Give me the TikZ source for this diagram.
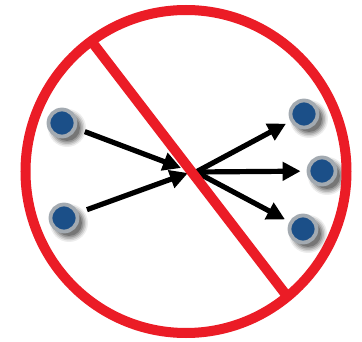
\documentclass[tikz,border=0pt]{standalone}
\usetikzlibrary{arrows.meta}
\definecolor{banred}{HTML}{EB1C26}
\definecolor{dotblue}{HTML}{1B4F88}
\definecolor{ringgray}{HTML}{A3AAB1}
\tikzset{
  dot/.style={circle, fill=dotblue, draw=ringgray, line width=3.8pt, minimum size=27pt, inner sep=0pt},
  flow/.style={line width=5.2pt, -{Triangle[length=18pt, width=18pt]}},
  ban/.style={draw=banred, line width=10pt}
}
\newcommand{\softshadow}[2]{%
  \foreach \r/\o in {19/0.07,17.5/0.1,16/0.13,14.5/0.17,13/0.22}{
    \fill[black, opacity=\o] (#1+5,#2+5) circle (\r pt);
  }%
}
\begin{document}
\begin{tikzpicture}[x=1pt,y=-1pt]
\useasboundingbox (0,0) rectangle (362,342);
\fill[white] (0,0) rectangle (362,342);
% shadows
\softshadow{62}{123}
\softshadow{64}{218}
\softshadow{304}{114}
\softshadow{322}{171}
\softshadow{303}{229}
% dots
\node[dot] (l1) at (62,123) {};
\node[dot] (l2) at (64,218) {};
\node[dot] (r1) at (304,114) {};
\node[dot] (r2) at (322,171) {};
\node[dot] (r3) at (303,229) {};
% hub coordinates
\coordinate (in1) at (181,168);
\coordinate (in2) at (188,173);
\coordinate (out) at (196,172);
% arrows
\draw[flow, shorten <=9pt] (l1) -- (in1);
\draw[flow, shorten <=9pt] (l2) -- (in2);
\draw[flow, shorten >=5pt] (out) -- (r1);
\draw[flow, shorten >=6pt] (out) -- (r2);
\draw[flow, shorten >=5pt] (out) -- (r3);
% ban sign
\coordinate (bc) at (186,171.5);
\draw[ban] (bc) ellipse (160.5pt and 161.5pt);
\coordinate (s1) at (92,42);
\coordinate (s2) at (290,300);
\draw[ban] (s1) -- (s2);
\end{tikzpicture}
\end{document}
